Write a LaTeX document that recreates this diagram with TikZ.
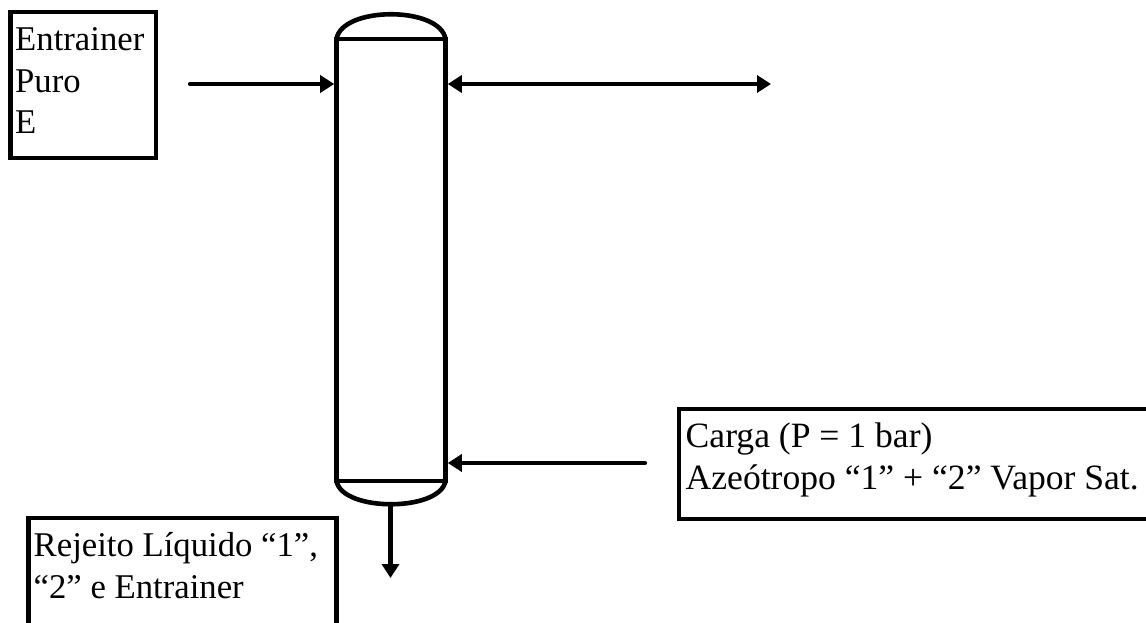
\documentclass[tikz,border=0pt]{standalone}
\usepackage{fontspec}
\setmainfont{Liberation Serif}
\usetikzlibrary{arrows.meta,positioning}
\tikzset{
  pipe/.style={line width=4.2pt, line cap=round, -{Triangle[length=14pt,width=17pt]}},
  streambox/.style={draw, line width=4.6pt, rectangle, outer sep=0pt, anchor=north west},
  streamtext/.style={anchor=base west, inner sep=0pt, align=left, font=\fontsize{34.7}{41.5}\selectfont},
  vessel/.style={draw, line width=4.6pt, rectangle, outer sep=0pt, minimum width=109pt, minimum height=442pt, anchor=north west}
}
\begin{document}
\begin{tikzpicture}[x=1pt, y=-1pt]
    \useasboundingbox (0,0) rectangle (1146,623);
    \clip (0,0) rectangle (1146,623);

    % Column with top and bottom heads
    \node[vessel] (column) at (336.5,39) {};
    \draw[line width=4.6pt] (column.north west) .. controls (342,6) and (440,6) .. (column.north east);
    \draw[line width=4.6pt] (column.south west) .. controls (342,512) and (440,512) .. (column.south east);

    % Entrainer box
    \node[streambox, minimum width=145.5pt, minimum height=146pt] (entrainer) at (10.5,12) {};
    \node[streamtext] (entrainertext) at (15,134) {Entrainer\\Puro\\E};

    % Feed box, runs past the right edge
    \node[streambox, minimum width=500pt, minimum height=110pt] (carga) at (679,409) {};
    \node[streamtext, font=\fontsize{35.6}{41.5}\selectfont] (cargatext) at (685.5,489) {Carga (P = 1 bar)\\Azeótropo “1” + “2” Vapor Sat.};

    % Residue box, runs past the bottom edge
    \node[streambox, minimum width=308pt, minimum height=150pt] (rejeito) at (28.5,518) {};
    \node[streamtext] (rejeitotext) at (33.5,598) {Rejeito Líquido “1”,\\“2” e Entrainer};

    % Free ends of the streams
    \coordinate (entrainerin) at (190,84);
    \coordinate (topout) at (771,84);
    \coordinate (cargain) at (645,463);
    \coordinate (bottomstart) at (390.5,504);
    \coordinate (bottomout) at (390.5,578);

    % Streams
    \draw[pipe, shorten >=2.3pt] (entrainerin) -- (column.west |- entrainerin);
    \draw[pipe, shorten <=2.3pt, {Triangle[length=14pt,width=17pt]}-{Triangle[length=14pt,width=17pt]}] (column.east |- topout) -- (topout);
    \draw[pipe, shorten >=2.3pt] (cargain) -- (column.east |- cargain);
    \draw[pipe] (bottomstart) -- (bottomout);
\end{tikzpicture}
\end{document}
